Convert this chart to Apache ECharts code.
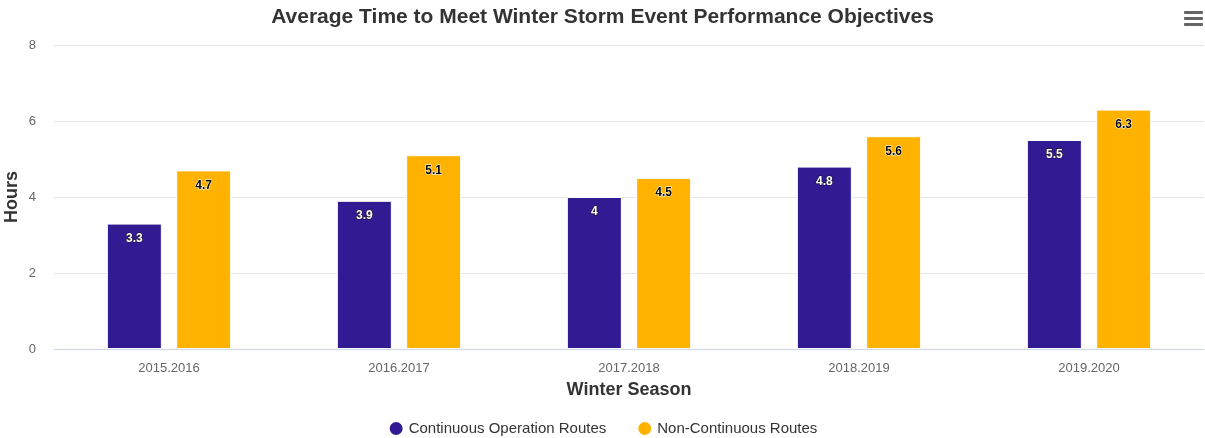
<!DOCTYPE html>
<html>
<head>
<meta charset="utf-8">
<script src="https://cdn.jsdelivr.net/npm/echarts@6/dist/echarts.min.js"></script>
<style>
  html, body { margin: 0; padding: 0; background: #fff; }
  #chart { width: 1205px; height: 438px; }
</style>
</head>
<body>
<div id="chart"></div>
<script>
// Winter seasons and average hours per route type
const seasons = ['2015.2016', '2016.2017', '2017.2018', '2018.2019', '2019.2020'];
const continuousHours = [3.3, 3.9, 4, 4.8, 5.5];
const nonContinuousHours = [4.7, 5.1, 4.5, 5.6, 6.3];
const yTicks = { min: 0, max: 8, interval: 2 };

const FONT = '"Liberation Sans", Arial, Helvetica, sans-serif';
const chart = echarts.init(document.getElementById('chart'), null, { renderer: 'canvas' });

function barLabel(color, outline) {
  return {
    show: true,
    position: 'insideTop',
    distance: 9,
    color: color,
    fontFamily: FONT,
    fontSize: 12,
    fontWeight: 'bold',
    textBorderColor: outline,
    textBorderWidth: 1
  };
}

chart.setOption({
  animation: false,
  textStyle: { fontFamily: FONT },
  title: {
    text: 'Average Time to Meet Winter Storm Event Performance Objectives',
    left: 'center',
    top: 2,
    textStyle: { fontFamily: FONT, fontSize: 21, fontWeight: 'bold', color: '#333333' }
  },
  legend: {
    top: 415,
    left: 'center',
    icon: 'circle',
    itemWidth: 15,
    itemHeight: 15,
    itemGap: 30,
    textStyle: { fontFamily: FONT, fontSize: 15, color: '#333333' }
  },
  grid: { left: 54, right: 1, top: 45, bottom: 89, containLabel: false, outerBoundsMode: 'none' },
  xAxis: {
    type: 'category',
    data: seasons,
    name: 'Winter Season',
    nameLocation: 'middle',
    nameGap: 32,
    nameTextStyle: { fontFamily: FONT, fontSize: 18, fontWeight: 'bold', color: '#333333' },
    axisLine: { lineStyle: { color: '#ccd6eb' } },
    axisTick: { show: false },
    axisLabel: { fontFamily: FONT, fontSize: 13, color: '#666666', margin: 13 }
  },
  yAxis: {
    type: 'value',
    min: yTicks.min,
    max: yTicks.max,
    interval: yTicks.interval,
    name: 'Hours',
    nameLocation: 'middle',
    nameGap: 33,
    nameMoveOverlap: false,
    nameTextStyle: { fontFamily: FONT, fontSize: 18, fontWeight: 'bold', color: '#333333' },
    axisLabel: { fontFamily: FONT, fontSize: 13, color: '#666666', margin: 18 },
    splitLine: { lineStyle: { color: '#e6e6e6' } },
    axisLine: { show: false },
    axisTick: { show: false }
  },
  series: [
    {
      name: 'Continuous Operation Routes',
      type: 'bar',
      data: continuousHours,
      barWidth: 55,
      barGap: '26%',
      itemStyle: { color: '#311b92', borderColor: '#ffffff', borderWidth: 1 },
      label: barLabel('#ffffff', '#1a1a1a')
    },
    {
      name: 'Non-Continuous Routes',
      type: 'bar',
      data: nonContinuousHours,
      barWidth: 55,
      itemStyle: { color: '#ffb300', borderColor: '#ffffff', borderWidth: 1 },
      label: barLabel('#000000', '#ffffff')
    }
  ],
  graphic: [
    { type: 'rect', right: 2, top: 11, shape: { width: 19, height: 3, r: 1 }, style: { fill: '#666666' } },
    { type: 'rect', right: 2, top: 17, shape: { width: 19, height: 3, r: 1 }, style: { fill: '#666666' } },
    { type: 'rect', right: 2, top: 23, shape: { width: 19, height: 3, r: 1 }, style: { fill: '#666666' } }
  ]
});
</script>
</body>
</html>
